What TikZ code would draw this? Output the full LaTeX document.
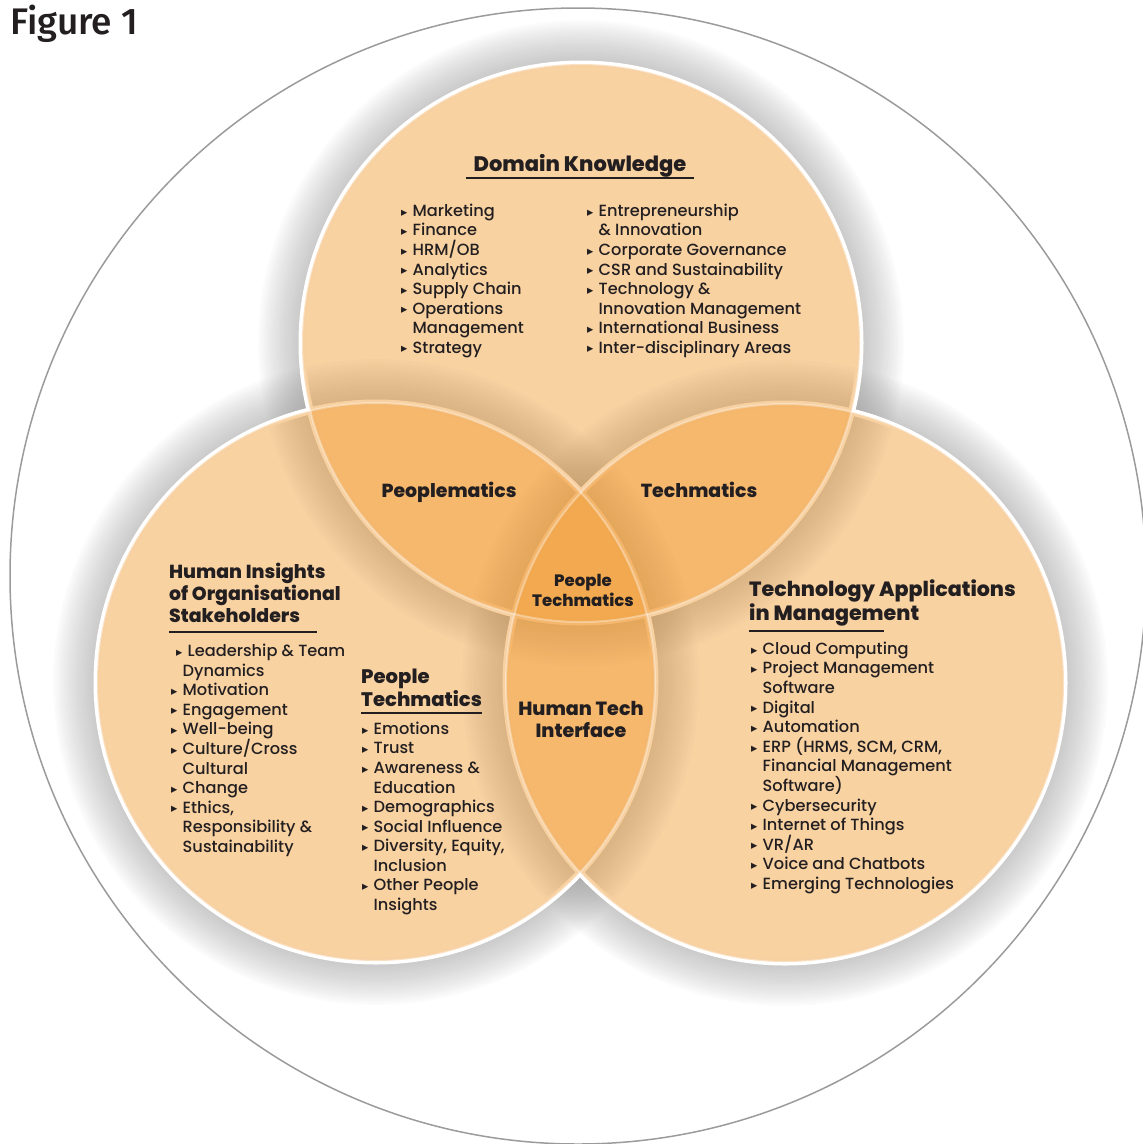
\documentclass[tikz,border=0pt]{standalone}
\usepackage{fontspec}
\setmainfont{Poppins Medium}[BoldFont={Poppins ExtraBold}]
\newfontfamily\symfont{DejaVu Sans}
\newfontfamily\figfont{Fira Sans Medium}
\usepackage{tikz}
\usetikzlibrary{calc}

\definecolor{vennfill}{RGB}{240,150,40}
\definecolor{inkdark}{RGB}{35,31,32}
\definecolor{ringgray}{RGB}{155,155,155}

\newcommand{\bul}{\makebox[11.5pt][l]{\raisebox{0.3pt}{\fontsize{12.5}{10}\symfont ▸}}}
\newcommand{\ind}{\hspace*{11.5pt}}

\tikzset{
  item/.style={anchor=base west, inner sep=0pt, text=inkdark, font=\fontsize{16.2}{19.6}\selectfont},
  head/.style={anchor=base west, inner sep=0pt, text=inkdark, font=\bfseries\fontsize{18.9}{22}\selectfont},
  bighead/.style={head, font=\bfseries\fontsize{19.6}{24}\selectfont},
  overlap/.style={align=center, inner sep=0pt, text=inkdark, font=\bfseries\fontsize{18.9}{22}\selectfont},
  uline/.style={line width=2.5pt, inkdark},
  vennrim/.style={white, line width=7pt},
  vennline/.style={white, opacity=0.35, line width=2pt},
}

\begin{document}
\begin{tikzpicture}[x=1pt, y=-1pt]
  \useasboundingbox (0,0) rectangle (1143,1144);
  \pgfmathsetmacro{\rad}{279}
  \coordinate (ctop) at (581,343);
  \coordinate (cleft) at (376,682);
  \coordinate (cright) at (785,683);

  \node[anchor=base west, inner sep=0pt, text=inkdark, font=\figfont\fontsize{37}{40}\selectfont] (fig) at (10,34) {Figure 1};

  % big ring behind everything
  \begin{scope}
    \clip (0,0) rectangle (1143,1144);
    \draw[ringgray, line width=1.5pt] (578,576) circle[radius=568];
  \end{scope}

  % soft shadows, rims, fills
  \foreach \c in {ctop,cleft,cright}{
    \foreach \k in {1,...,20}{
      \fill[black!45, opacity=0.03, even odd rule] (\c) circle[radius=\rad] circle[radius={\rad+2.2*\k}];
    }
  }
  \foreach \c in {ctop,cleft,cright}
    \draw[vennrim] (\c) circle[radius=\rad];
  \foreach \c in {ctop,cleft,cright}
    \fill[vennfill, opacity=0.43] (\c) circle[radius=\rad];
  \foreach \c in {ctop,cleft,cright}
    \draw[vennline] (\c) circle[radius=\rad];

  % Domain Knowledge
  \node[head, anchor=base, font=\bfseries\fontsize{21}{24}\selectfont] (dkTitle) at (580,171) {Domain Knowledge};
  \draw[uline] ($(dkTitle.base west)+(-7,7)$) -- ($(dkTitle.base east)+(7,7)$);
  \foreach \t [count=\i from 0] in {\bul Marketing, \bul Finance, \bul HRM/OB, \bul Analytics, \bul Supply Chain, \bul Operations, \ind Management, \bul Strategy}
    \node[item] (dkA\i) at (401,{216.4+19.55*\i}) {\t};
  \foreach \t [count=\i from 0] in {\bul Entrepreneurship, \ind\& Innovation, \bul Corporate Governance, \bul CSR and Sustainability, \bul Technology \&, \ind Innovation Management, \bul International Business, \bul Inter-disciplinary Areas}
    \node[item] (dkB\i) at (587,{216.4+19.55*\i}) {\t};

  % Human Insights
  \foreach \t [count=\i from 0] in {Human Insights, of Organisational, Stakeholders}
    \node[head] (hiTitle\i) at (169,{578+22*\i}) {\t};
  \draw[uline] ($(hiTitle2.base west)+(0,10)$) -- ++(148,0);
  \foreach \t [count=\i from 0] in {\hspace*{5pt}\bul Leadership \& Team, \ind Dynamics, \bul Motivation, \bul Engagement, \bul Well-being, \bul Culture/Cross, \ind Cultural, \bul Change, {\bul Ethics,}, \ind Responsibility \&, \ind Sustainability}
    \node[item] (hi\i) at (171,{656.4+19.6*\i}) {\t};

  % People Techmatics
  \foreach \t [count=\i from 0] in {People, Techmatics}
    \node[bighead] (ptTitle\i) at (361,{683+23*\i}) {\t};
  \draw[uline] ($(ptTitle1.base west)+(0,7)$) -- ++(121,0);
  \foreach \t [count=\i from 0] in {\bul Emotions, \bul Trust, \bul Awareness \&, \ind Education, \bul Demographics, \bul Social Influence, {\bul Diversity, Equity,}, \ind Inclusion, \bul Other People, \ind Insights}
    \node[item] (pt\i) at (362,{734.4+19.56*\i}) {\t};

  % Technology Applications
  \foreach \t [count=\i from 0] in {Technology Applications, in Management}
    \node[bighead, font=\bfseries\fontsize{20.6}{24}\selectfont] (taTitle\i) at (749,{596+24*\i}) {\t};
  \draw[uline] ($(taTitle1.base west)+(0,11)$) -- ++(135,0);
  \foreach \t [count=\i from 0] in {\bul Cloud Computing, \bul Project Management, \ind Software, \bul Digital, \bul Automation, {\bul ERP (HRMS, SCM, CRM,}, \ind Financial Management, \ind Software), \bul Cybersecurity, \bul Internet of Things, \bul VR/AR, \bul Voice and Chatbots, \bul Emerging Technologies}
    \node[item] (ta\i) at (751,{654.4+19.58*\i}) {\t};

  % overlaps
  \node[overlap, anchor=base] (peoplematics) at (449,497) {Peoplematics};
  \node[overlap, anchor=base] (techmatics) at (699,497) {Techmatics};
  \node[overlap, font=\bfseries\fontsize{16.5}{20}\selectfont] (core) at (583,590) {People\\Techmatics};
  \node[overlap, font=\bfseries\fontsize{19.1}{22}\selectfont] (hti) at (581,719) {Human Tech\\Interface};
\end{tikzpicture}
\end{document}
